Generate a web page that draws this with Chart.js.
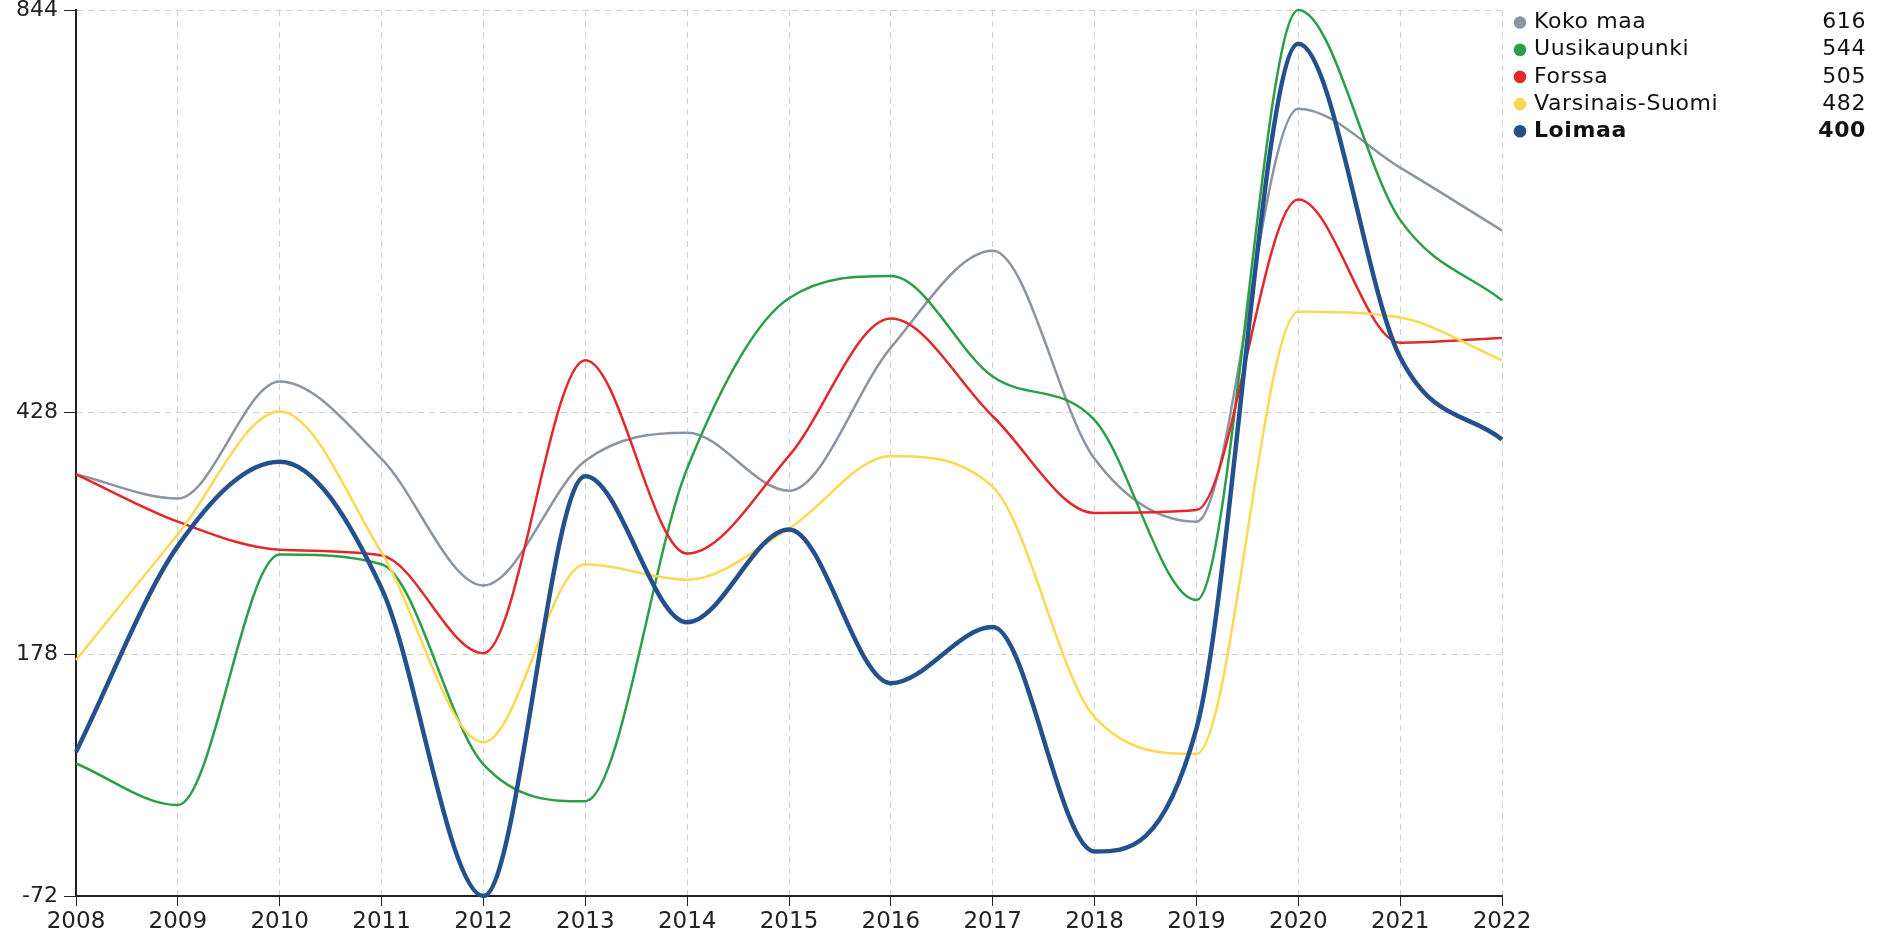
<!DOCTYPE html>
<html>
<head>
<meta charset="utf-8">
<script src="https://cdn.jsdelivr.net/npm/chart.js@4/dist/chart.umd.min.js"></script>
<style>
  body { margin: 0; background: #fff; }
  canvas { display: block; }
</style>
</head>
<body>
<canvas id="chart" width="1881" height="938"></canvas>
<script>
const years = ['2008', '2009', '2010', '2011', '2012', '2013', '2014', '2015', '2016', '2017', '2018', '2019', '2020', '2021', '2022'];

const kokoMaa = [364, 339, 460, 380, 249, 378, 407, 347, 495, 595, 380, 315, 742, 681, 616];
const uusikaupunki = [65, 22, 281, 271, 64, 26, 370, 546, 569, 465, 420, 234, 844, 627, 544];
const forssa = [364, 315, 286, 280, 179, 482, 282, 383, 525, 424, 324, 327, 648, 500, 505];
const varsinaisSuomi = [172, 302, 429, 283, 87, 271, 255, 308, 383, 351, 113, 75, 532, 526, 482];
const loimaa = [77, 290, 377, 246, -72, 362, 211, 307, 148, 206, -26, 101, 809, 485, 400];

const yTicks = [-72, 178, 428, 844];

const series = [
  { name: 'Koko maa', data: kokoMaa, color: '#8b95a1', width: 2.5, bold: false },
  { name: 'Uusikaupunki', data: uusikaupunki, color: '#2b9e47', width: 2.5, bold: false },
  { name: 'Forssa', data: forssa, color: '#e3282b', width: 2.5, bold: false },
  { name: 'Varsinais-Suomi', data: varsinaisSuomi, color: '#fdd853', width: 2.5, bold: false },
  { name: 'Loimaa', data: loimaa, color: '#24508e', width: 4.5, bold: true }
];

const FONT = '"DejaVu Sans", sans-serif';

// legend on the right with latest value
const sideLegend = {
  id: 'sideLegend',
  afterDraw(chart) {
    const ctx = chart.ctx;
    ctx.save();
    ctx.textBaseline = 'middle';
    series.forEach((s, i) => {
      const y = 22.5 + i * 27.2;
      ctx.fillStyle = s.color;
      ctx.beginPath();
      ctx.arc(1520, y, 6.3, 0, Math.PI * 2);
      ctx.fill();
      ctx.fillStyle = '#111';
      ctx.font = (s.bold ? 'bold ' : '') + '22px ' + FONT;
      ctx.letterSpacing = '0.6px';
      ctx.textAlign = 'left';
      ctx.fillText(s.name, 1534, y);
      ctx.textAlign = 'right';
      ctx.fillText(String(s.data[s.data.length - 1]), 1866, y);
    });
    ctx.restore();
  }
};

const datasets = series.map((s, i) => ({
  label: s.name,
  data: s.data,
  borderColor: s.color,
  backgroundColor: s.color,
  borderWidth: s.width,
  pointRadius: 0,
  cubicInterpolationMode: 'monotone',
  fill: false,
  clip: false,
  order: series.length - i
}));

new Chart(document.getElementById('chart'), {
  type: 'line',
  data: { labels: years, datasets: datasets },
  options: {
    responsive: false,
    animation: false,
    layout: { padding: { top: 10, right: 379, left: 0, bottom: 0 } },
    plugins: {
      legend: { display: false },
      tooltip: { enabled: false }
    },
    scales: {
      x: {
        offset: false,
        afterFit(scale) { scale.height = 42; },
        grid: { color: '#cfcfcf', lineWidth: 1, tickColor: '#222', tickLength: 10, drawTicks: true },
        border: { display: true, color: '#222', width: 2, dash: [6, 5] },
        ticks: { color: '#222', font: { family: FONT, size: 23 }, padding: 2, maxRotation: 0, autoSkip: false }
      },
      y: {
        min: -72,
        max: 844,
        afterFit(scale) {
          scale.width = 76;
          scale.paddingTop = 0;
          scale.paddingBottom = 0;
        },
        afterBuildTicks(scale) { scale.ticks = yTicks.map(v => ({ value: v })); },
        grid: { color: '#cfcfcf', lineWidth: 1, tickColor: '#222', tickLength: 12, drawTicks: true },
        border: { display: true, color: '#222', width: 2, dash: [6, 5] },
        ticks: { color: '#222', font: { family: FONT, size: 22 }, padding: 6 }
      }
    }
  },
  plugins: [sideLegend]
});
</script>
</body>
</html>
